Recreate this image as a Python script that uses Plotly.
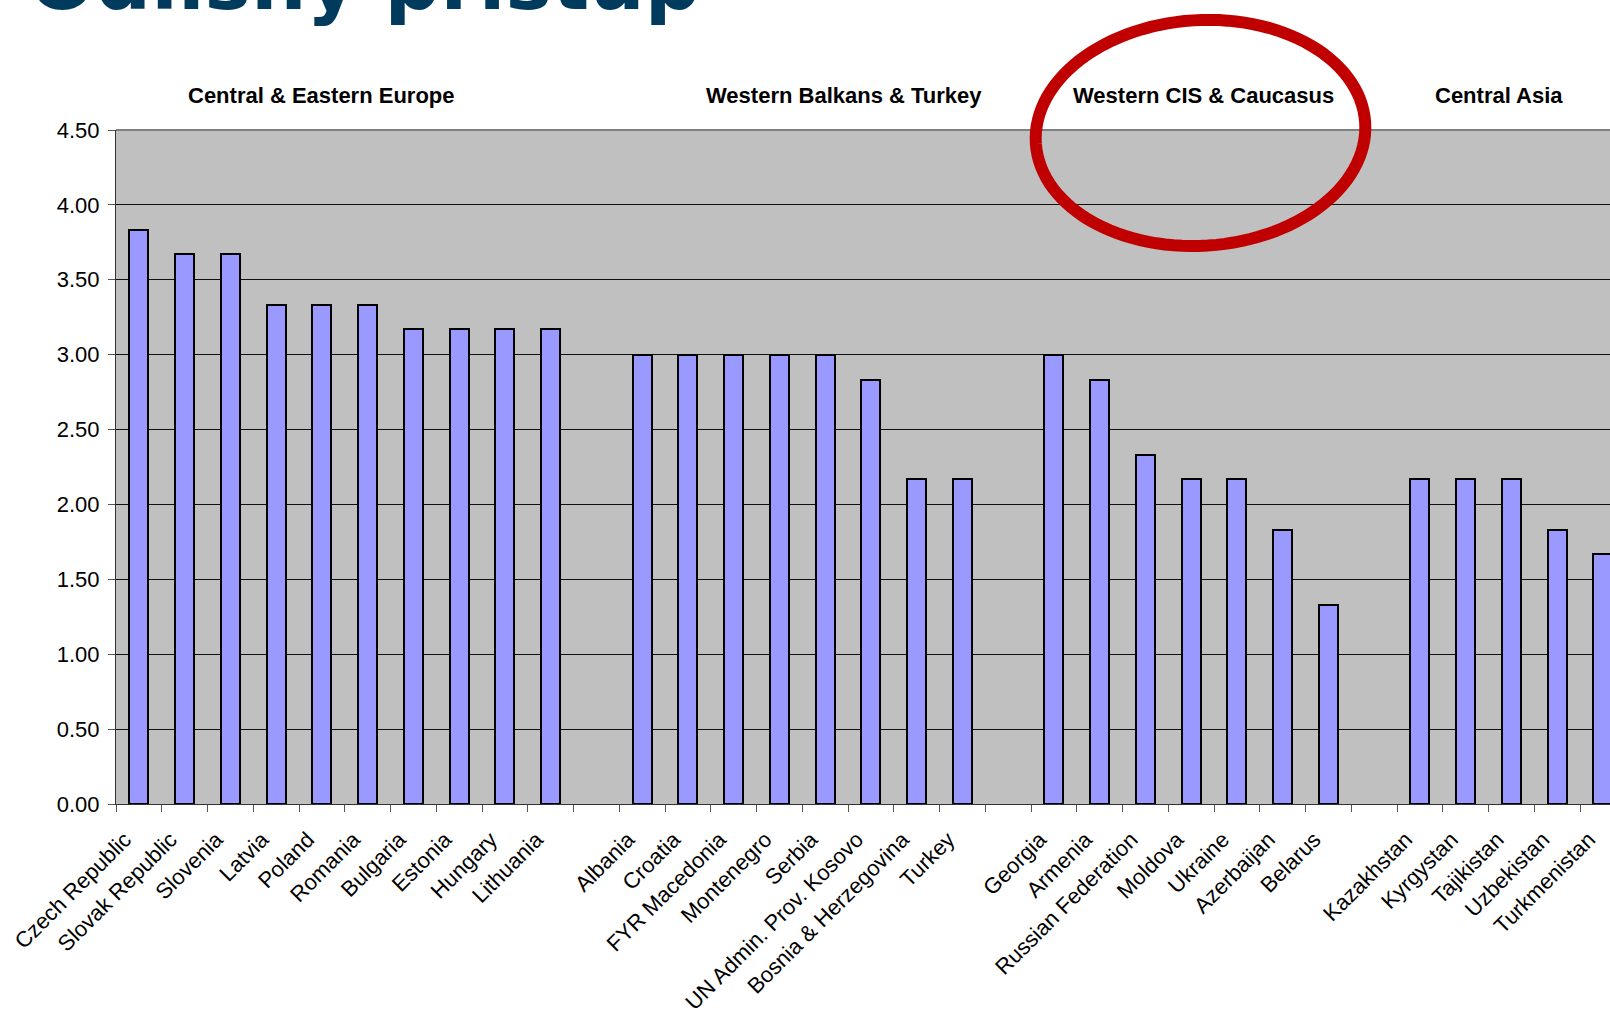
import numpy as np
import plotly.graph_objects as go

# ---------------- data ----------------
title_text = "Odlišný přístup"
group_names = ["Central & Eastern Europe", "Western Balkans & Turkey",
               "Western CIS & Caucasus", "Central Asia"]

cee_countries = ["Czech Republic", "Slovak Republic", "Slovenia", "Latvia", "Poland",
                 "Romania", "Bulgaria", "Estonia", "Hungary", "Lithuania"]
cee_values = [3.83, 3.67, 3.67, 3.33, 3.33, 3.33, 3.17, 3.17, 3.17, 3.17]

wbt_countries = ["Albania", "Croatia", "FYR Macedonia", "Montenegro", "Serbia",
                 "UN Admin. Prov. Kosovo", "Bosnia & Herzegovina", "Turkey"]
wbt_values = [3.00, 3.00, 3.00, 3.00, 3.00, 2.83, 2.17, 2.17]

cis_countries = ["Georgia", "Armenia", "Russian Federation", "Moldova", "Ukraine",
                 "Azerbaijan", "Belarus"]
cis_values = [3.00, 2.83, 2.33, 2.17, 2.17, 1.83, 1.33]

ca_countries = ["Kazakhstan", "Kyrgystan", "Tajikistan", "Uzbekistan", "Turkmenistan"]
ca_values = [2.17, 2.17, 2.17, 1.83, 1.67]

y_ticks = [0.0, 0.5, 1.0, 1.5, 2.0, 2.5, 3.0, 3.5, 4.0, 4.5]

# ---------------- layout constants ----------------
W, H = 1610, 1015
PLOT_L, PLOT_T, PLOT_B = 116, 130, 811   # page pixel positions of the plot area
ML, MR = PLOT_L, 0
MT = PLOT_T
MB = H - PLOT_B
PW, PH = W - ML - MR, H - MT - MB
SLOT = 45.75  # pixel width of one category slot

def px2x(px):
    return (px - PLOT_L) / PW

def py2y(py):
    return (PLOT_B - py) / PH

# build positions: one empty slot between groups
groups = [(cee_countries, cee_values), (wbt_countries, wbt_values),
          (cis_countries, cis_values), (ca_countries, ca_values)]
xs, ys, labels = [], [], []
pos = 0
for names, vals in groups:
    for n, v in zip(names, vals):
        xs.append(pos)
        ys.append(v)
        labels.append(n)
        pos += 1
    pos += 1

x_end = -0.5 + PW / SLOT

fig = go.Figure()
fig.add_trace(go.Bar(
    x=xs, y=ys, width=0.415,
    marker=dict(color="#9999FF", line=dict(color="#000000", width=2)),
    hoverinfo="x+y",
))

fig.update_layout(
    width=W, height=H,
    margin=dict(l=ML, r=MR, t=MT, b=MB, pad=0),
    paper_bgcolor="#FFFFFF",
    plot_bgcolor="#C0C0C0",
    showlegend=False,
    bargap=0,
    font=dict(family="Liberation Sans, Arial, sans-serif", color="#000000", size=22),
    xaxis=dict(
        type="linear",
        range=[-0.5, x_end],
        tickmode="array", tickvals=xs, ticktext=labels,
        tickangle=-45, ticks="", showgrid=False, zeroline=False,
        showline=True, linecolor="#333333", linewidth=1,
        tickfont=dict(size=22), ticklabelstandoff=13, ticklabelshift=-14,
        minor=dict(tickmode="linear", tick0=0.5, dtick=1, ticks="outside",
                   ticklen=7, tickcolor="#555555", tickwidth=1, showgrid=False),
    ),
    yaxis=dict(
        range=[0, 4.5], tickmode="array", tickvals=y_ticks,
        tickformat=".2f", ticks="outside", ticklen=7, tickcolor="#555555",
        showgrid=True, gridcolor="#111111", gridwidth=1,
        zeroline=False, showline=True, linecolor="#333333", linewidth=1,
        tickfont=dict(size=22), ticklabelstandoff=4,
    ),
)

# top border of plot area
fig.add_shape(type="line", xref="paper", yref="paper", x0=0, x1=1, y0=1, y1=1,
              line=dict(color="#808080", width=2), layer="above")

# group titles
group_px = [321, 843.5, 1203, 1499]
for name, gx in zip(group_names, group_px):
    fig.add_annotation(text="<b>%s</b>" % name, xref="paper", yref="paper",
                       x=px2x(gx), y=py2y(95), xanchor="center", yanchor="middle",
                       showarrow=False, font=dict(size=22, color="#000000"))

# big (cut-off) slide title
fig.add_annotation(text="<b>%s</b>" % title_text, xref="paper", yref="paper",
                   x=px2x(27), y=py2y(-20), xanchor="left", yanchor="middle",
                   showarrow=False,
                   font=dict(family="DejaVu Sans, sans-serif", size=78, color="#003A5C"))

# red highlight ellipse
cx, cy, a, b, th = 1200.5, 133.0, 165.0, 114.0, np.deg2rad(3.7)
t = np.linspace(0, 2 * np.pi, 121)
ex = cx + a * np.cos(t) * np.cos(th) + b * np.sin(t) * np.sin(th)
ey = cy - a * np.cos(t) * np.sin(th) + b * np.sin(t) * np.cos(th)
path = "M " + " L ".join("%.5f,%.5f" % (px2x(u), py2y(v)) for u, v in zip(ex, ey)) + " Z"
fig.add_shape(type="path", xref="paper", yref="paper", path=path,
              line=dict(color="#C00000", width=12), layer="above")

fig.write_html(
    "out.html",
    config={"displayModeBar": False},
    post_script="document.body.style.margin='0';"
                "document.body.style.overflow='hidden';"
                "document.documentElement.style.overflow='hidden';",
)
